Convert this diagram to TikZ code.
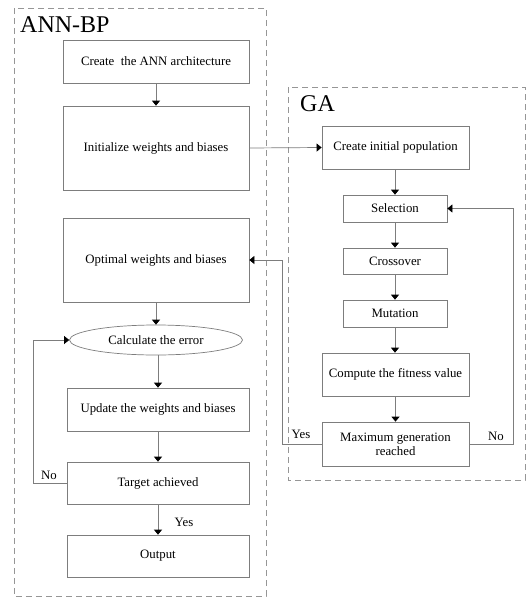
\documentclass[tikz,border=0pt]{standalone}
\usepackage{fontspec}
\setmainfont{Liberation Serif}
\usetikzlibrary{arrows.meta,shapes.geometric}
\definecolor{ln}{RGB}{125,125,125}
\definecolor{dl}{RGB}{150,150,150}
\tikzset{
  box/.style={draw=ln, line width=0.7pt, rectangle, inner sep=0pt, font=\fontsize{12.8}{14}\selectfont, align=center},
  oval/.style={draw=ln, line width=0.7pt, ellipse, inner sep=0pt, font=\fontsize{12.8}{14}\selectfont},
  arr/.style={draw=ln, line width=0.7pt, -{Triangle[length=5pt,width=8pt,color=black]}},
  group/.style={draw=dl, line width=0.7pt, dash pattern=on 6pt off 4pt},
  title/.style={font=\fontsize{24}{26}\selectfont, inner sep=0pt, anchor=base west},
  lbl/.style={font=\fontsize{12.8}{14}\selectfont, inner sep=0pt}
}
\begin{document}
\begin{tikzpicture}[x=1pt,y=-1pt]
\useasboundingbox (0,0) rectangle (528,605);
\fill[white] (0,0) rectangle (528,605);
% group frames
\draw[group] (14,8) rectangle (266,596);
\draw[group] (288,87) rectangle (525,480);
\node[title] (tann) at (20,32) {ANN-BP};
\node[title] (tga) at (300,111) {GA};
% ANN-BP column
\node[box, minimum width=186pt, minimum height=43pt] (ann) at (156,61.5) {Create\ \ the ANN architecture};
\node[box, minimum width=186pt, minimum height=84pt] (init) at (156,148) {Initialize weights and biases};
\node[box, minimum width=186pt, minimum height=84pt] (opt) at (156,260) {Optimal weights and biases};
\node[oval, minimum width=173pt, minimum height=30pt] (calc) at (156,340) {Calculate the error};
\node[box, minimum width=182pt, minimum height=43pt] (upd) at (158,409.5) {Update the weights and biases};
\node[box, minimum width=182pt, minimum height=42pt] (tgt) at (158,483) {Target achieved};
\node[box, minimum width=182pt, minimum height=42pt] (out) at (158,556) {Output};
% GA column
\node[box, minimum width=147pt, minimum height=43pt] (pop) at (395.5,147.5) {Create initial population};
\node[box, minimum width=104pt, minimum height=27pt] (sel) at (395,208.5) {Selection};
\node[box, minimum width=104pt, minimum height=26pt] (cross) at (395,261) {Crossover};
\node[box, minimum width=104pt, minimum height=27pt] (mut) at (395,313.5) {Mutation};
\node[box, minimum width=147pt, minimum height=43pt] (fit) at (395.5,374.5) {Compute the fitness value};
\node[box, minimum width=147pt, minimum height=44pt] (maxg) at (395.5,444) {Maximum generation\\reached};
% ANN-BP arrows
\draw[arr] (ann.south) -- (init.north);
\draw[arr] (opt.south) -- (calc.north);
\draw[arr] (calc.south -| upd.north) -- (upd.north);
\draw[arr] (upd.south) -- (tgt.north);
\draw[arr] (tgt.south) -- (out.north);
\coordinate (nol) at (33,483);
\draw[arr] (tgt.west) -- (nol) |- (calc.west);
\node[lbl] (no1) at (49,475) {No};
\node[lbl] (yes1) at (184,522) {Yes};
% link
\draw[arr] (init.east) -- (pop.west);
% GA arrows
\draw[arr] (pop.south -| sel.north) -- (sel.north);
\draw[arr] (sel.south) -- (cross.north);
\draw[arr] (cross.south) -- (mut.north);
\draw[arr] (mut.south) -- (mut.south |- fit.north);
\draw[arr] (fit.south) -- (maxg.north);
\coordinate (yesl) at (282,444);
\draw[arr] (maxg.west) -- (yesl) |- (opt.east);
\node[lbl] (yes2) at (301,434) {Yes};
\coordinate (nor) at (513,444);
\draw[arr] (maxg.east) -- (nor) |- (sel.east);
\node[lbl] (no2) at (496,436) {No};
\end{tikzpicture}
\end{document}
